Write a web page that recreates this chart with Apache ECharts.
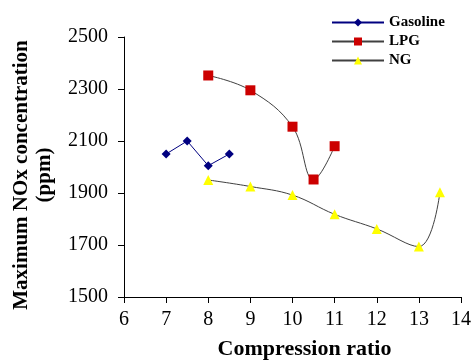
<!DOCTYPE html>
<html><head><meta charset="utf-8">
<script src="https://cdn.jsdelivr.net/npm/echarts@6/dist/echarts.min.js"></script>
<style>html,body{margin:0;padding:0;background:#fff}#c{width:474px;height:360px}</style>
</head><body><div id="c"></div>
<script>
const gasolineData = [[7, 2050], [7.5, 2100], [8, 2005], [8.5, 2050]];
const lpgData = [[8, 2352], [9, 2295], [10, 2155], [10.5, 1952], [11, 2080]];
const ngData = [[8, 1950], [9, 1925], [10, 1892], [11, 1818], [12, 1762], [13, 1694], [13.5, 1903]];
const seriesNames = ['Gasoline', 'LPG', 'NG'];
const xName = 'Compression ratio';
const yName = 'Maximum NOx concentration\n(ppm)';

const font = 'Liberation Serif';
const chart = echarts.init(document.getElementById('c'));
chart.setOption({
  animation: false,
  backgroundColor: '#fff',
  grid: {left: 124, right: 13, top: 37, bottom: 63, containLabel: false, outerBoundsMode: 'none'},
  legend: {
    orient: 'vertical', left: 326, top: 10, itemGap: 4,
    itemWidth: 52, itemHeight: 10,
    textStyle: {fontFamily: font, fontWeight: 'bold', fontSize: 15, color: '#000'},
    data: seriesNames
  },
  xAxis: {
    type: 'value', min: 6, max: 14, interval: 1,
    name: xName, nameLocation: 'middle', nameGap: 41,
    nameTextStyle: {fontFamily: font, fontWeight: 'bold', fontSize: 22, color: '#000', padding: [0, 0, 0, 24]},
    axisLine: {lineStyle: {color: '#000', width: 1}},
    axisTick: {show: true, inside: false, length: 6, lineStyle: {color: '#000'}},
    axisLabel: {fontFamily: font, fontSize: 20, color: '#000', margin: 13},
    splitLine: {show: false}
  },
  yAxis: {
    type: 'value', min: 1500, max: 2500, interval: 200,
    name: yName, nameLocation: 'middle', nameGap: 68, nameRotate: 90,
    nameTextStyle: {fontFamily: font, fontWeight: 'bold', fontSize: 21, color: '#000', lineHeight: 23, padding: [0, 16, 0, 0]},
    axisLine: {show: true, lineStyle: {color: '#000', width: 1}},
    axisTick: {show: true, inside: false, length: 6, lineStyle: {color: '#000'}},
    axisLabel: {fontFamily: font, fontSize: 20, color: '#000', margin: 16, formatter: v => String(v)},
    splitLine: {show: false}
  },
  series: [
    {name: seriesNames[0], type: 'line', data: gasolineData, symbol: 'diamond', symbolSize: 9,
     lineStyle: {color: '#000080', width: 1}, itemStyle: {color: '#000080'}},
    {name: seriesNames[1], type: 'line', data: lpgData, smooth: 0.4, symbol: 'rect', symbolSize: 10,
     lineStyle: {color: '#404040', width: 1}, itemStyle: {color: '#cc0000'}},
    {name: seriesNames[2], type: 'line', data: ngData, smooth: 0.4, symbol: 'triangle', symbolSize: 10,
     lineStyle: {color: '#404040', width: 1}, itemStyle: {color: '#ffff00'}}
  ]
});
</script></body></html>
